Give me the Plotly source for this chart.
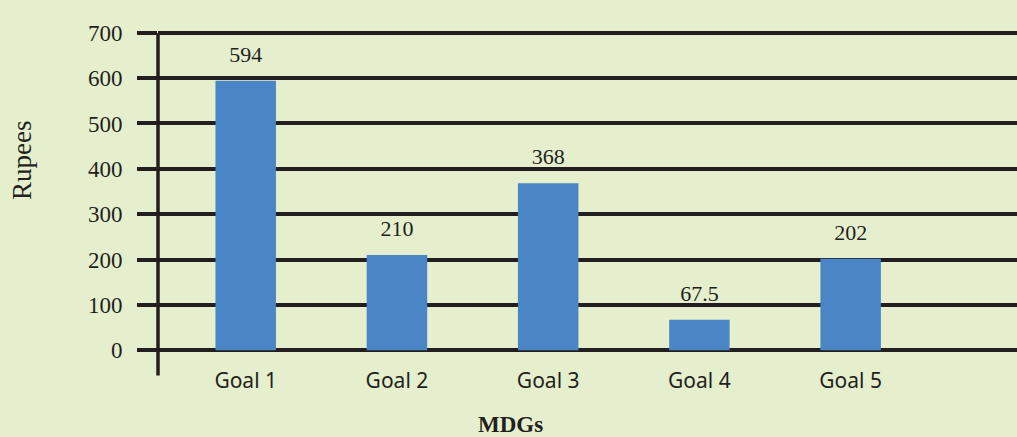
import plotly.graph_objects as go

categories = ["Goal 1", "Goal 2", "Goal 3", "Goal 4", "Goal 5"]
values = [594, 210, 368, 67.5, 202]
labels = ["594", "210", "368", "67.5", "202"]
y_ticks = [0, 100, 200, 300, 400, 500, 600, 700]

BG = "#e5efcd"
INK = "#231f20"
SERIF = "Liberation Serif, DejaVu Serif, serif"

fig = go.Figure()
fig.add_trace(
    go.Bar(
        x=categories,
        y=values,
        marker=dict(color="#4a86c5", line=dict(width=0)),
        width=0.4,
    )
)
fig.add_trace(
    go.Scatter(
        x=categories,
        y=values,
        mode="markers+text",
        text=labels,
        textposition="top center",
        textfont=dict(family=SERIF, size=22, color=INK),
        marker=dict(size=20, opacity=0),
        cliponaxis=False,
    )
)

fig.update_layout(
    width=1017,
    height=437,
    paper_bgcolor=BG,
    plot_bgcolor=BG,
    margin=dict(l=158, r=0, t=30, b=84),
    showlegend=False,
)

fig.update_xaxes(
    type="category",
    range=[-0.58, 5.1],
    showgrid=False,
    zeroline=False,
    showline=False,
    ticks="outside",
    ticklen=9,
    tickcolor="rgba(0,0,0,0)",
    tickfont=dict(family="Noto Sans, Open Sans, sans-serif", size=21, color=INK),
)

fig.update_yaxes(
    range=[-6, 706],
    tickvals=y_ticks,
    showgrid=True,
    gridcolor=INK,
    gridwidth=4,
    zeroline=False,
    ticks="outside",
    ticklen=20,
    tickwidth=4,
    tickcolor=INK,
    ticklabelstandoff=10,
    tickfont=dict(family=SERIF, size=23, color=INK),
)

fig.add_annotation(
    text="Rupees", textangle=-90, xref="paper", yref="paper",
    x=(22 - 158) / 859, y=(353 - 161) / 323, xanchor="center", yanchor="middle",
    showarrow=False, font=dict(family=SERIF, size=27, color=INK),
)
fig.add_annotation(
    text="<b>MDGs</b>", xref="paper", yref="paper",
    x=(510 - 158) / 859, y=-(424 - 353) / 323, xanchor="center", yanchor="middle",
    showarrow=False, font=dict(family=SERIF, size=23, color=INK),
)

fig.add_shape(
    type="line", xref="paper", yref="paper",
    x0=0, x1=0, y0=-0.07, y1=0.99,
    line=dict(color=INK, width=3.5),
)

fig.write_html(
    "out.html",
    config={"displayModeBar": False},
    post_script="document.body.style.margin='0';document.body.style.background='%s';" % BG,
)
